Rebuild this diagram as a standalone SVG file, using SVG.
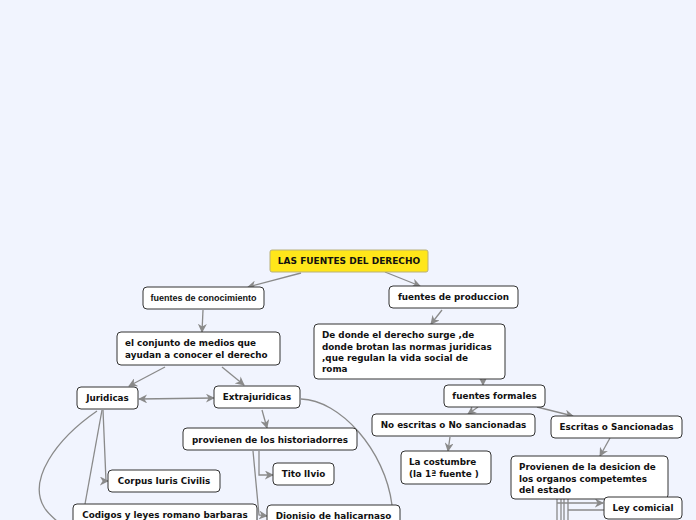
<svg xmlns="http://www.w3.org/2000/svg" width="696" height="520" viewBox="0 0 696 520">
<defs>
<marker id="ah" viewBox="0 0 10 10" refX="9" refY="5" markerWidth="9" markerHeight="9" markerUnits="userSpaceOnUse" orient="auto-start-reverse">
<path d="M0,0 L10,5 L0,10 L3,5 Z" fill="#8a8a8a"/>
</marker>
</defs>
<style>
.bg{fill:#f1f4fe}
.n{fill:#fff;stroke:#333;stroke-width:1}
.root{fill:#ffe61a;stroke:#b8b07a;stroke-width:1}
.c{fill:none;stroke:#8a8a8a;stroke-width:1.3}
.a{marker-end:url(#ah)}
text{font-family:"DejaVu Sans",Verdana,sans-serif;font-weight:bold;font-size:8.8px;fill:#111}
.arial{font-family:"Liberation Sans",Arial,sans-serif;font-size:9px}
.big{font-size:9px}
</style>
<rect class="bg" x="0" y="0" width="696" height="520"/>
<g id="connectors">
<path class="c a" d="M301,273 L248,287"/>
<path class="c a" d="M385,272 L420,286"/>
<path class="c a" d="M203,310 L202,332"/>
<path class="c a" d="M442,310 L431,324"/>
<path class="c a" d="M165,367 L129,386"/>
<path class="c a" d="M222,367 L244,385"/>
<path class="c a" style="marker-start:url(#ah)" d="M139,399 L214,398"/>
<path class="c a" d="M262,410 L267,428"/>
<path class="c a" d="M259,451 L259,475 L273,475"/>
<path class="c a" d="M253,451 L259,515 L267,516"/>
<path class="c" d="M301,399 C340,400 385,450 392,505"/>
<path class="c a" d="M103,410 L106,481 L108,481"/>
<path class="c" d="M102,410 L85,504"/>
<path class="c" d="M97,411 C55,440 28,480 44,507 C48,514 54,518 58,522"/>
<path class="c a" d="M483,380 L483,385"/>
<path class="c a" d="M478,407 L468,414"/>
<path class="c a" d="M537,407 L573,416"/>
<path class="c a" d="M450,437 L448,451"/>
<path class="c a" d="M610,438 L600,456"/>
<path class="c" d="M557,499 L557,522 M561,499 L561,522 M564,499 L564,522 M568,499 L568,522"/>
<path class="c a" d="M557,503 L603,503"/>
<path class="c" d="M568,510 L604,510"/>
</g>
<g id="root"><rect class="root" x="270" y="250" width="158" height="22" rx="2"/><text class="big" x="349" y="264" text-anchor="middle">LAS FUENTES DEL DERECHO</text></g>
<g id="conocimiento"><rect class="n" x="143" y="287" width="121" height="22" rx="4"/><text class="arial" x="203.5" y="301" text-anchor="middle">fuentes de conocimiento</text></g>
<g id="produccion"><rect class="n" x="389" y="286" width="129" height="22" rx="4"/><text x="453.5" y="300" text-anchor="middle">fuentes de produccion</text></g>
<g id="conjunto"><rect class="n" x="117" y="332" width="163" height="33" rx="4"/><text x="125" y="346">el conjunto de medios que</text><text x="125" y="358">ayudan a conocer el derecho</text></g>
<g id="dedonde"><rect class="n" x="314" y="324" width="191" height="55" rx="4"/><text x="322" y="338">De donde el derecho surge ,de</text><text x="322" y="350">donde brotan las normas juridicas</text><text x="322" y="361">,que regulan la vida social de</text><text x="322" y="372">roma</text></g>
<g id="juridicas"><rect class="n" x="77" y="387" width="61" height="22" rx="4"/><text x="107.5" y="401" text-anchor="middle">Juridicas</text></g>
<g id="extrajuridicas"><rect class="n" x="214" y="386" width="86" height="22" rx="4"/><text x="257" y="400" text-anchor="middle">Extrajuridicas</text></g>
<g id="historiadores"><rect class="n" x="183" y="428" width="174" height="22" rx="4"/><text x="270" y="443" text-anchor="middle">provienen de los historiadorres</text></g>
<g id="tito"><rect class="n" x="273" y="463" width="61" height="22" rx="4"/><text x="303.5" y="477" text-anchor="middle">Tito lIvio</text></g>
<g id="corpus"><rect class="n" x="108" y="470" width="112" height="22" rx="4"/><text x="164" y="484" text-anchor="middle">Corpus Iuris Civilis</text></g>
<g id="codigos"><rect class="n" x="73" y="504" width="184" height="24" rx="4"/><text x="165" y="518" text-anchor="middle">Codigos y leyes romano barbaras</text></g>
<g id="dionisio"><rect class="n" x="267" y="505" width="133" height="24" rx="4"/><text x="333.5" y="519" text-anchor="middle">Dionisio de halicarnaso</text></g>
<g id="formales"><rect class="n" x="444" y="385" width="101" height="22" rx="4"/><text x="494.5" y="399" text-anchor="middle">fuentes formales</text></g>
<g id="noescritas"><rect class="n" x="372" y="414" width="163" height="22" rx="4"/><text x="453.5" y="428" text-anchor="middle">No escritas o No sancionadas</text></g>
<g id="costumbre"><rect class="n" x="401" y="451" width="90" height="33" rx="4"/><text x="409" y="465">La costumbre</text><text x="409" y="477"> (la 1ª fuente )</text></g>
<g id="escritas"><rect class="n" x="551" y="416" width="131" height="22" rx="4"/><text x="616.5" y="430" text-anchor="middle">Escritas o Sancionadas</text></g>
<g id="provienen"><rect class="n" x="511" y="456" width="157" height="43" rx="4"/><text x="519" y="470">Provienen de la desicion de</text><text x="519" y="482">los organos competemtes</text><text x="519" y="493">del estado</text></g>
<g id="ley"><rect class="n" x="604" y="497" width="78" height="22" rx="4"/><text x="643" y="511" text-anchor="middle">Ley comicial</text></g>
</svg>
